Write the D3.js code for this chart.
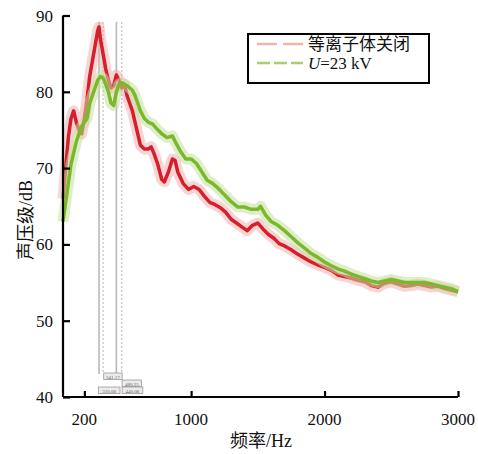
<!DOCTYPE html>
<html>
<head>
<meta charset="utf-8">
<script src="https://cdn.jsdelivr.net/npm/d3@7"></script>
<style>
  body { margin: 0; background: #fff; }
  text { font-family: "Liberation Serif", "Times New Roman", "Noto Sans CJK SC", serif; fill: #111; }
</style>
</head>
<body>
<svg id="chart"></svg>
<script>
// frequency grid (Hz) and sound pressure levels (dB)
const freqOff = [40, 60, 80, 100, 120, 140, 160, 180, 200, 220, 240, 260, 280, 300, 310, 320, 340, 360, 380, 400,
  420, 440, 460, 480, 500, 520, 540, 560, 580, 600, 620, 650, 680, 700, 720, 750, 780, 800, 830, 860,
  880, 900, 940, 980, 1020, 1060, 1100, 1140, 1180, 1220, 1260, 1300, 1340, 1380, 1420, 1460, 1500, 1540, 1580, 1620,
  1660, 1700, 1750, 1800, 1850, 1900, 1950, 2000, 2050, 2100, 2150, 2200, 2250, 2300, 2350, 2400, 2450, 2500, 2550, 2600,
  2650, 2700, 2750, 2800, 2850, 2900, 2950, 3000];
const splOff = [66, 70, 74, 76.5, 77.5, 76, 75, 74.5, 76.5, 79, 82, 84, 86, 88, 88.5, 87, 85, 83, 81.5, 80.5,
  80.8, 82.2, 81.5, 80.5, 81, 79.5, 78.5, 77.5, 76, 74.5, 73, 72.5, 72.5, 72.8, 72, 70.5, 68.5, 68.2, 69.5, 71.2,
  71, 69.5, 68, 67.2, 67.6, 67.2, 66.3, 65.5, 65.2, 64.8, 64.2, 63.3, 62.8, 62.3, 61.8, 62.5, 62.8, 62, 61.3, 60.8,
  60.1, 59.8, 59.3, 58.7, 58.2, 57.7, 57.3, 57, 56.6, 56, 55.8, 55.6, 55.3, 55.1, 54.6, 54.4, 54.9, 55.1, 54.8, 54.5,
  54.6, 54.8, 54.6, 54.4, 54.5, 54.2, 54, 53.8];

const freqOn = [40, 60, 80, 100, 120, 140, 160, 180, 200, 220, 240, 260, 280, 300, 320, 340, 360, 380, 400, 420,
  440, 460, 480, 500, 520, 540, 560, 580, 600, 620, 650, 680, 710, 740, 780, 820, 860, 880, 920, 960,
  1000, 1040, 1080, 1120, 1160, 1200, 1250, 1300, 1350, 1400, 1450, 1500, 1520, 1560, 1600, 1650, 1700, 1750, 1800, 1850,
  1900, 1950, 2000, 2050, 2100, 2150, 2200, 2250, 2300, 2350, 2400, 2450, 2500, 2550, 2600, 2650, 2700, 2750, 2800, 2850,
  2900, 2950, 3000];
const splOn = [63, 65.5, 68, 70.5, 72, 73.5, 74.5, 75.5, 76, 76.5, 78.5, 79.5, 80.5, 81.5, 82, 81.8, 81, 80, 78.5, 78.2,
  80, 81, 81.2, 81, 80.8, 80.5, 80.2, 79.5, 78.5, 77.5, 76.5, 76, 75.8, 75.2, 74.5, 74, 74.2, 73.5, 72.2, 71.2,
  71.2, 70.6, 69.5, 68.4, 68, 67.4, 66.5, 65.6, 64.9, 64.9, 64.6, 64.6, 65, 63.8, 63, 62.5, 61.8, 61, 60.2, 59.5,
  58.8, 58.3, 57.7, 57.2, 56.8, 56.5, 56.1, 55.8, 55.5, 55.2, 55, 55.2, 55.4, 55.2, 55, 55, 55, 55, 54.8, 54.6,
  54.4, 54.2, 53.8];

const xTicks = [200, 1000, 2000, 3000];
const yTicks = [40, 50, 60, 70, 80, 90];
const seriesNames = ["等离子体关闭", "U=23 kV"];

// marker lines (Hz) and their little value boxes
const markerSolid = [310, 440];
const markerDotted = [340, 480];
const markerBoxes = [
  { f0: 345, f1: 483, row: 0, label: "341.17" },
  { f0: 483, f1: 628, row: 1, label: "480.25" },
  { f0: 305, f1: 467, row: 2, label: "310.08" },
  { f0: 483, f1: 638, row: 2, label: "440.08" }
];

const W = 478, H = 454;
const svg = d3.select("#chart").attr("width", W).attr("height", H);

const x = d3.scaleLinear().domain([40, 3000]).range([63, 458]);
const y = d3.scaleLinear().domain([40, 90]).range([397, 15.5]);

// marker lines
const mk = svg.append("g");
markerSolid.forEach(f => {
  mk.append("line").attr("x1", x(f)).attr("x2", x(f)).attr("y1", 22).attr("y2", 374)
    .attr("stroke", "#bdb4b8").attr("stroke-width", 1.6);
});
markerDotted.forEach(f => {
  mk.append("line").attr("x1", x(f)).attr("x2", x(f)).attr("y1", 22).attr("y2", 374)
    .attr("stroke", "#c4bcc0").attr("stroke-width", 1.2).attr("stroke-dasharray", "2,2");
});
const boxG = mk.selectAll("g.mb").data(markerBoxes).join("g").attr("class", "mb");
boxG.append("rect")
  .attr("x", d => x(d.f0)).attr("y", d => 373 + d.row * 7)
  .attr("width", d => x(d.f1) - x(d.f0)).attr("height", 6.5)
  .attr("fill", "#eeeaec").attr("stroke", "#999").attr("stroke-width", 0.8);
boxG.append("text")
  .attr("x", d => (x(d.f0) + x(d.f1)) / 2).attr("y", d => 378.5 + d.row * 7)
  .attr("text-anchor", "middle").style("font-size", "5px").style("fill", "#666")
  .text(d => d.label);

// series: wide pale band for the noise, solid core on top
const line = d3.line().x(d => x(d[0])).y(d => y(d[1]));
const dataOff = freqOff.map((f, i) => [f, splOff[i]]);
const dataOn = freqOn.map((f, i) => [f, splOn[i]]);

const plot = svg.append("g");
plot.append("path").datum(dataOff).attr("d", line)
  .attr("fill", "none").attr("stroke", "#f1a9a9").attr("stroke-width", 11).attr("stroke-opacity", 0.5)
  .attr("stroke-linejoin", "round");
plot.append("path").datum(dataOff).attr("d", line)
  .attr("fill", "none").attr("stroke", "#d51f2b").attr("stroke-width", 3.5)
  .attr("stroke-linejoin", "round");
plot.append("path").datum(dataOn).attr("d", line)
  .attr("fill", "none").attr("stroke", "#c3e09c").attr("stroke-width", 11).attr("stroke-opacity", 0.55)
  .attr("stroke-linejoin", "round");
plot.append("path").datum(dataOn).attr("d", line)
  .attr("fill", "none").attr("stroke", "#7cb82c").attr("stroke-width", 3.5)
  .attr("stroke-linejoin", "round");

// axes
const xAxisG = svg.append("g").attr("transform", "translate(0,397)")
  .call(d3.axisTop(x).tickValues(xTicks).tickSize(6).tickFormat(""));
const yAxisG = svg.append("g").attr("transform", "translate(63,0)")
  .call(d3.axisRight(y).tickValues(yTicks).tickSize(7).tickFormat(""));
[xAxisG, yAxisG].forEach(g => {
  g.select(".domain").attr("stroke", "#000").attr("stroke-width", 2.2);
  g.selectAll(".tick line").attr("stroke", "#000").attr("stroke-width", 2.2);
});
xAxisG.select(".domain").attr("d", "M63,0H458");
yAxisG.select(".domain").attr("d", "M0,397V15.5");

svg.append("g").selectAll("text").data(xTicks).join("text")
  .attr("x", d => x(d)).attr("y", 425).attr("text-anchor", "middle")
  .style("font-size", "17px").text(d => d);
svg.append("g").selectAll("text").data(yTicks).join("text")
  .attr("x", 53).attr("y", d => y(d) + 6).attr("text-anchor", "end")
  .style("font-size", "17px").text(d => d);

svg.append("text").attr("x", 261).attr("y", 447).attr("text-anchor", "middle")
  .style("font-size", "18px").text("频率/Hz");
svg.append("text").attr("transform", "translate(32,220) rotate(-90)").attr("text-anchor", "middle")
  .style("font-size", "18px").text("声压级/dB");

// legend
const lg = svg.append("g");
lg.append("rect").attr("x", 248).attr("y", 34).attr("width", 181).attr("height", 49)
  .attr("fill", "#fff").attr("stroke", "#000").attr("stroke-width", 2);
const legendStyle = [
  { color: "#f4b3a8", dash: "20,6" },
  { color: "#a9cf72", dash: "13,4" }
];
seriesNames.forEach((name, i) => {
  const ly = 44 + i * 19;
  lg.append("line").attr("x1", 257).attr("x2", 303).attr("y1", ly).attr("y2", ly)
    .attr("stroke", legendStyle[i].color).attr("stroke-width", 2.5)
    .attr("stroke-dasharray", legendStyle[i].dash);
  const t = lg.append("text").attr("x", 308).attr("y", ly + 6);
  if (i === 0) {
    t.style("font-size", "17px").text(name);
  } else {
    t.style("font-size", "17px");
    t.append("tspan").style("font-style", "italic").text("U");
    t.append("tspan").text(name.slice(1));
  }
});
</script>
</body>
</html>
